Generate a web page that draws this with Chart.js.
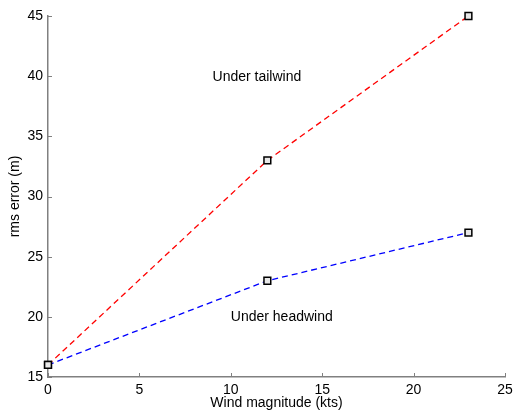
<!DOCTYPE html>
<html>
<head>
<meta charset="utf-8">
<script src="https://cdn.jsdelivr.net/npm/chart.js@4/dist/chart.umd.min.js"></script>
<style>
html,body{margin:0;padding:0;background:#fff;}
#wrap{width:514px;height:414px;}
</style>
</head>
<body>
<div id="wrap"><canvas id="c" width="514" height="414"></canvas></div>
<script>
const windKts = [0, 12, 23];
const tailwindErr = [16, 33, 45];
const headwindErr = [16, 23, 27];
const xTicks = [0, 5, 10, 15, 20, 25];
const yTicks = [15, 20, 25, 30, 35, 40, 45];
const labels = [
  {text: 'Under tailwind', x: 9, y: 40},
  {text: 'Under headwind', x: 10, y: 20}
];

const FONT = 'Liberation Sans, Arial, Helvetica, sans-serif';
const AXIS = '#808080';

function pts(xs, ys){ return xs.map((x,i)=>({x:x, y:ys[i]})); }

const extras = {
  id: 'extras',
  afterDatasetsDraw(chart){
    const ctx = chart.ctx;
    const xs = chart.scales.x, ys = chart.scales.y;
    const a = chart.chartArea;
    ctx.save();
    ctx.strokeStyle = AXIS;
    ctx.lineWidth = 1;
    ctx.beginPath();
    xTicks.forEach(v=>{
      const px = Math.round(xs.getPixelForValue(v)) + 0.5;
      ctx.moveTo(px, a.bottom); ctx.lineTo(px, a.bottom - 4);
    });
    yTicks.forEach(v=>{
      const py = Math.round(ys.getPixelForValue(v)) + 0.5;
      ctx.moveTo(a.left, py); ctx.lineTo(a.left + 4, py);
    });
    ctx.stroke();
    ctx.fillStyle = '#000';
    ctx.font = '14px ' + FONT;
    ctx.textAlign = 'left';
    ctx.textBaseline = 'middle';
    labels.forEach(l=>{
      ctx.fillText(l.text, xs.getPixelForValue(l.x), ys.getPixelForValue(l.y) + 0.5);
    });
    ctx.restore();
  }
};

const markerCommon = {
  pointStyle: 'rect',
  pointRadius: 4.8,
  pointHoverRadius: 4.8,
  pointBackgroundColor: '#e8e8e8',
  pointBorderColor: '#000',
  pointBorderWidth: 1.5
};

new Chart(document.getElementById('c'), {
  type: 'scatter',
  data: {
    datasets: [
      Object.assign({
        label: 'tailwind',
        data: pts(windKts, tailwindErr),
        showLine: true,
        borderColor: '#ff0000',
        borderWidth: 1.3,
        borderDash: [6, 4],
        tension: 0,
        clip: false
      }, markerCommon),
      Object.assign({
        label: 'headwind',
        data: pts(windKts, headwindErr),
        showLine: true,
        borderColor: '#0000ff',
        borderWidth: 1.3,
        borderDash: [6, 4],
        tension: 0,
        clip: false
      }, markerCommon)
    ]
  },
  options: {
    responsive: false,
    animation: false,
    devicePixelRatio: 1,
    layout: {padding: {left: 0, right: 9, top: 16, bottom: 0}},
    plugins: {legend: {display: false}, tooltip: {enabled: false}},
    scales: {
      x: {
        type: 'linear',
        min: 0, max: 25,
        afterBuildTicks(s){ s.ticks = xTicks.map(v=>({value:v})); },
        afterFit(s){ s.height = 37; s.paddingLeft = 0; s.paddingRight = 0; },
        grid: {display: true, drawOnChartArea: false, drawTicks: false},
        border: {display: true, color: AXIS, width: 1.5},
        ticks: {color: '#000', padding: 5, font: {family: FONT, size: 14}, maxRotation: 0, autoSkip: false},
        title: {display: true, text: 'Wind magnitude (kts)', color: '#000', font: {family: FONT, size: 14}, padding: {top: 0, bottom: 2.5}}
      },
      y: {
        type: 'linear',
        min: 15, max: 45,
        afterBuildTicks(s){ s.ticks = yTicks.map(v=>({value:v})); },
        afterFit(s){ s.width = 48; s.paddingTop = 0; s.paddingBottom = 0; },
        grid: {display: true, drawOnChartArea: false, drawTicks: false},
        border: {display: true, color: AXIS, width: 1.5},
        ticks: {color: '#000', padding: 5, font: {family: FONT, size: 14}, autoSkip: false},
        title: {display: true, text: 'rms error (m)', color: '#000', font: {family: FONT, size: 14}, padding: {top: 7, bottom: 0}}
      }
    }
  },
  plugins: [extras]
});
</script>
</body>
</html>
